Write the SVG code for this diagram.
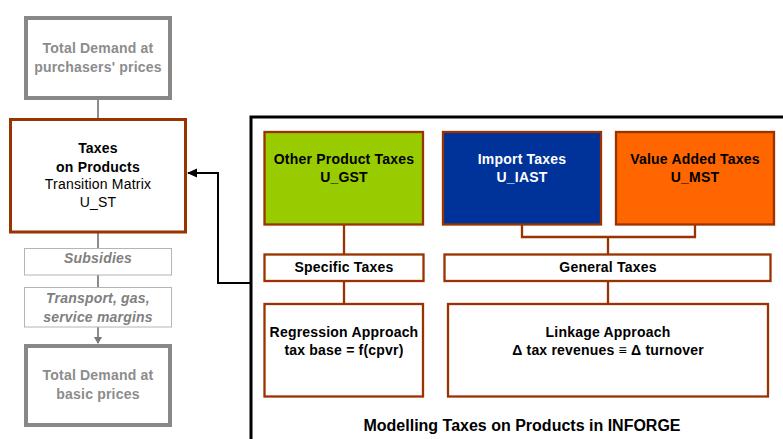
<svg xmlns="http://www.w3.org/2000/svg" width="783" height="439" viewBox="0 0 783 439">
<defs>
<style>
text{font-family:"Liberation Sans",Arial,sans-serif;font-size:14px;text-anchor:middle;letter-spacing:0.2px}
.b{font-weight:bold}
.gt{fill:#8c8c8c;font-weight:bold}
.gi{fill:#808080;font-weight:bold;font-style:italic}
.gbox{fill:#fff;stroke:#888;stroke-width:4}
.lbox{fill:#fff;stroke:#b4b4b4;stroke-width:1}
.br{stroke:#993300;stroke-width:2.3}
.gl{stroke:#8c8c8c;stroke-width:2;fill:none}
.bl{stroke:#993300;stroke-width:2.3;fill:none}
</style>
<marker id="ga" markerWidth="8" markerHeight="8" refX="6" refY="4" orient="auto" markerUnits="userSpaceOnUse"><path d="M0,0 L7,4 L0,8 z" fill="#777"/></marker>
<marker id="ka" markerWidth="10" markerHeight="10" refX="9" refY="4.5" orient="auto" markerUnits="userSpaceOnUse"><path d="M0,0 L10,4.5 L0,9 z" fill="#000"/></marker>
</defs>
<rect width="783" height="439" fill="#fff"/>
<g id="connectors">
<line class="gl" x1="98" y1="100" x2="98" y2="119"/>
<line class="gl" x1="98" y1="233" x2="98" y2="248"/>
<line class="gl" x1="98" y1="275" x2="98" y2="287"/>
<line class="gl" x1="98" y1="327" x2="98" y2="343" marker-end="url(#ga)"/>
<path d="M251,283 H218 V173 H188" fill="none" stroke="#000" stroke-width="2" marker-end="url(#ka)"/>
<line class="bl" x1="344" y1="224.5" x2="344" y2="254.5"/>
<path class="bl" d="M522,224.5 V237 H695 V224.5"/>
<line class="bl" x1="608" y1="237" x2="608" y2="254.5"/>
<line class="bl" x1="344" y1="281" x2="344" y2="304"/>
<line class="bl" x1="608" y1="281" x2="608" y2="304"/>
</g>
<g id="frame">
<rect x="251" y="117" width="560" height="340" fill="none" stroke="#000" stroke-width="3"/>
<text class="b" x="522" y="431" style="font-size:16px;letter-spacing:0">Modelling Taxes on Products in INFORGE</text>
</g>
<g id="td-purchasers">
<rect class="gbox" x="26" y="18" width="144" height="80"/>
<text class="gt" x="98" y="53">Total Demand at</text>
<text class="gt" x="98" y="72">purchasers' prices</text>
</g>
<g id="taxes-on-products">
<rect x="10.5" y="119.5" width="175" height="112.5" fill="#fff" stroke="#993300" stroke-width="3"/>
<text class="b" x="98" y="153">Taxes</text>
<text class="b" x="98" y="172">on Products</text>
<text x="98" y="189">Transition Matrix</text>
<text x="98" y="207">U_ST</text>
</g>
<g id="subsidies">
<rect class="lbox" x="24.5" y="248.5" width="147" height="26.5"/>
<text class="gi" x="98" y="263">Subsidies</text>
</g>
<g id="margins">
<rect class="lbox" x="24.5" y="287.5" width="147" height="39.5"/>
<text class="gi" x="98" y="303">Transport, gas,</text>
<text class="gi" x="98" y="322">service margins</text>
</g>
<g id="td-basic">
<rect class="gbox" x="26" y="346" width="144" height="79"/>
<text class="gt" x="98" y="380">Total Demand at</text>
<text class="gt" x="98" y="399">basic prices</text>
</g>
<g id="other-product-taxes">
<rect class="br" x="264.5" y="132" width="158.5" height="92.5" fill="#99cc00"/>
<text class="b" x="344" y="164">Other Product Taxes</text>
<text class="b" x="344" y="182">U_GST</text>
</g>
<g id="import-taxes">
<rect class="br" x="443" y="132" width="158" height="92.5" fill="#003399"/>
<text class="b" x="522" y="164" fill="#fff">Import Taxes</text>
<text class="b" x="522" y="182" fill="#fff">U_IAST</text>
</g>
<g id="value-added-taxes">
<rect class="br" x="616" y="132" width="158" height="92.5" fill="#ff6600"/>
<text class="b" x="695" y="164">Value Added Taxes</text>
<text class="b" x="695" y="182">U_MST</text>
</g>
<g id="specific-taxes">
<rect class="br" x="264.5" y="254.5" width="159" height="26.5" fill="#fff"/>
<text class="b" x="344" y="272">Specific Taxes</text>
</g>
<g id="general-taxes">
<rect class="br" x="444.5" y="254.5" width="326" height="26.5" fill="#fff"/>
<text class="b" x="608" y="272">General Taxes</text>
</g>
<g id="regression">
<rect class="br" x="264.5" y="304" width="158.5" height="92.5" fill="#fff"/>
<text class="b" x="344" y="337">Regression Approach</text>
<text class="b" x="344" y="355">tax base = f(cpvr)</text>
</g>
<g id="linkage">
<rect class="br" x="448" y="304" width="320" height="92.5" fill="#fff"/>
<text class="b" x="608" y="337">Linkage Approach</text>
<text class="b" x="608" y="355">Δ tax revenues ≡ Δ turnover</text>
</g>
</svg>
